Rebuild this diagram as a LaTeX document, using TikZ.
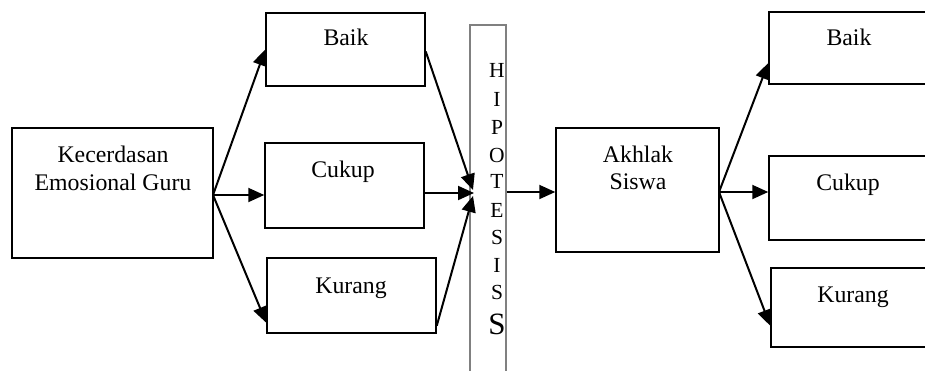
\documentclass[tikz,border=0pt]{standalone}
\usepackage{fontspec}
\setmainfont{Liberation Serif}
\usetikzlibrary{arrows.meta}
\tikzset{
  box/.style={draw, line width=1.5pt, inner sep=0pt},
  txt/.style={anchor=base, inner sep=0pt, font=\fontsize{23.8}{28}\selectfont},
  hl/.style={anchor=base, inner sep=0pt, font=\fontsize{21.5}{25}\selectfont},
  arr/.style={line width=2pt, -{Triangle[length=16pt,width=14pt]}},
}
\begin{document}
\begin{tikzpicture}[x=1pt,y=-1pt]
\clip (0,0) rectangle (925,370);
\fill[white] (0,0) rectangle (925,370);
% left boxes
\node[box, minimum width=201pt, minimum height=130pt] (kg) at (112.5,193) {};
\node[box, minimum width=159pt, minimum height=73pt] (baik) at (345.5,49.5) {};
\node[box, minimum width=159pt, minimum height=85pt] (cukup) at (344.5,185.5) {};
\node[box, minimum width=169pt, minimum height=75pt] (kurang) at (351.5,295.5) {};
% hipotesis
\node[draw=gray, line width=1.2pt, minimum width=36pt, minimum height=380pt, inner sep=0pt] (hip) at (488,215) {};
% akhlak
\node[box, minimum width=163pt, minimum height=124pt] (akh) at (637.5,190) {};
% right boxes (cut by the page edge)
\node[box, minimum width=200pt, minimum height=72pt] (rbaik) at (869,48) {};
\node[box, minimum width=200pt, minimum height=84pt] (rcukup) at (869,198) {};
\node[box, minimum width=200pt, minimum height=79pt] (rkurang) at (871,307.5) {};
% texts
\node[txt] (t1) at (113,162) {Kecerdasan};
\node[txt] (t2) at (113,190) {Emosional Guru};
\node[txt] (t3) at (346,45) {Baik};
\node[txt] (t4) at (343,177) {Cukup};
\node[txt] (t5) at (351,293) {Kurang};
\node[txt] (t6) at (638,162) {Akhlak};
\node[txt] (t7) at (638,189) {Siswa};
\node[txt] (t8) at (849,45) {Baik};
\node[txt] (t9) at (848,190) {Cukup};
\node[txt] (t10) at (853,302) {Kurang};
\foreach \l/\y [count=\i] in {H/77,I/106,P/134,O/162,T/188,E/217,S/244,I/272,S/299}
  \node[hl] (h\i) at (497,\y) {\l};
\node[anchor=base, inner sep=0pt, font=\fontsize{31}{31}\selectfont] (h10) at (497,334) {S};
% connector ends
\coordinate (e1) at (473,190);
\coordinate (e2) at (474,193);
\coordinate (e3) at (473,196);
\coordinate (s0) at (213,195);
\coordinate (a0) at (719,192);
% arrows left
\draw[arr] (s0) -- (baik.west);
\draw[arr] (s0) -- (cukup.west |- s0);
\draw[arr] (s0) -- ([yshift=11pt]kurang.south west);
\draw[arr] ([yshift=-2pt]baik.east) -- (e1);
\draw[arr] (cukup.east |- e2) -- (e2);
\draw[arr] ([yshift=8pt]kurang.south east) -- (e3);
\draw[arr] (hip.east |- a0) -- (akh.west |- a0);
% arrows right
\draw[arr] (a0) -- ([yshift=-15pt]rbaik.west);
\draw[arr] (a0) -- (rcukup.west |- a0);
\draw[arr] (a0) -- ([yshift=22pt]rkurang.south west);
\end{tikzpicture}
\end{document}
